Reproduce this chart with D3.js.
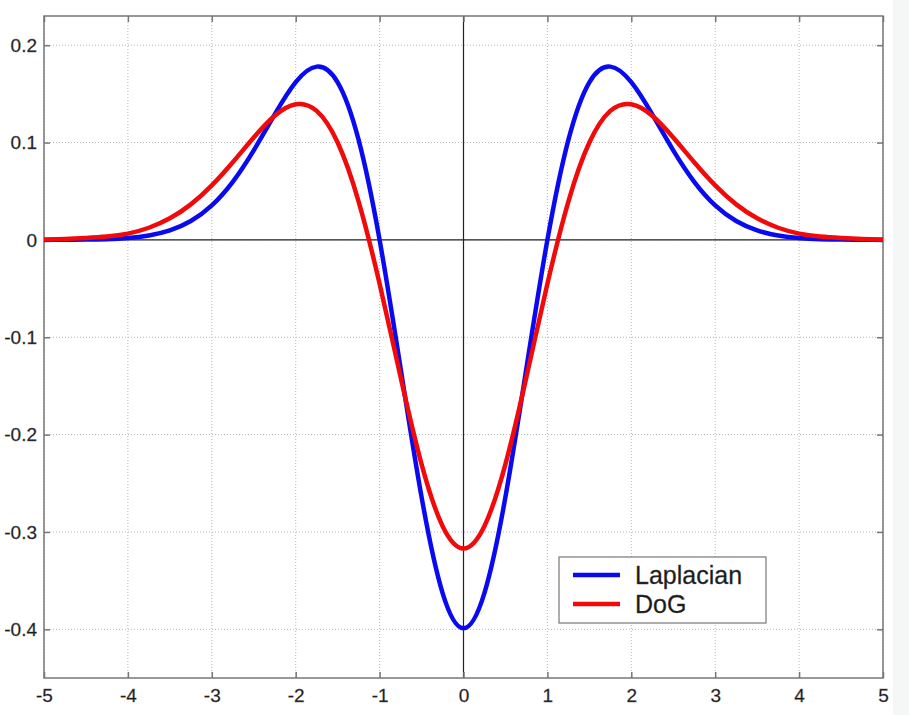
<!DOCTYPE html>
<html>
<head>
<meta charset="utf-8">
<script src="https://d3js.org/d3.v7.min.js"></script>
<style>
  body { margin: 0; background: #fff; }
  svg { display: block; font-family: "Liberation Sans", Arial, sans-serif; }
</style>
</head>
<body>
<div id="chart"></div>
<script>
var xValues = [-5, -4.75, -4.5, -4.25, -4, -3.75, -3.5, -3.25, -3, -2.75, -2.5, -2.25, -2, -1.75, -1.5, -1.25, -1, -0.75, -0.5, -0.25,
  0, 0.25, 0.5, 0.75, 1, 1.25, 1.5, 1.75, 2, 2.25, 2.5, 2.75, 3, 3.25, 3.5, 3.75, 4, 4.25, 4.5, 4.75, 5];
var laplacianValues = [0.0000, 0.0001, 0.0003, 0.0008, 0.0020, 0.0046, 0.0098, 0.0194, 0.0355, 0.0597, 0.0920, 0.1289, 0.1620, 0.1780, 0.1619, 0.1027, 0.0000, -0.1317, -0.2640, -0.3625,
  -0.3989, -0.3625, -0.2640, -0.1317, 0.0000, 0.1027, 0.1619, 0.1780, 0.1620, 0.1289, 0.0920, 0.0597, 0.0355, 0.0194, 0.0098, 0.0046, 0.0020, 0.0008, 0.0003, 0.0001, 0.0000];
var dogValues = [0.0004, 0.0010, 0.0020, 0.0035, 0.0065, 0.0125, 0.0222, 0.0365, 0.0560, 0.0798, 0.1052, 0.1275, 0.1393, 0.1325, 0.1000, 0.0394, -0.0451, -0.1408, -0.2303, -0.2939,
  -0.3170, -0.2939, -0.2303, -0.1408, -0.0451, 0.0394, 0.1000, 0.1325, 0.1393, 0.1275, 0.1052, 0.0798, 0.0560, 0.0365, 0.0222, 0.0125, 0.0065, 0.0035, 0.0020, 0.0010, 0.0004];
var seriesNames = ["Laplacian", "DoG"];
var xTicks = [-5, -4, -3, -2, -1, 0, 1, 2, 3, 4, 5];
var yTicks = [0.2, 0.1, 0, -0.1, -0.2, -0.3, -0.4];

var W = 909, H = 715;
var pLeft = 44, pTop = 16, pRight = 883, pBottom = 678;

var svg = d3.select("#chart").append("svg").attr("width", W).attr("height", H);
svg.append("rect").attr("width", W).attr("height", H).attr("fill", "#fff");
svg.append("rect").attr("x", 893).attr("width", W - 893).attr("height", H).attr("fill", "#f5f7f7");

var x = d3.scaleLinear().domain([-5, 5]).range([pLeft, pRight]);
var y = d3.scaleLinear().domain([-0.45, 0.23]).range([pBottom, pTop]);

// dotted grid
var grid = svg.append("g").attr("stroke", "#b8b8b8").attr("stroke-width", 1).attr("stroke-dasharray", "1,2");
xTicks.forEach(function(t){
  grid.append("line").attr("x1", x(t)).attr("x2", x(t)).attr("y1", pTop).attr("y2", pBottom);
});
yTicks.forEach(function(t){
  grid.append("line").attr("x1", pLeft).attr("x2", pRight).attr("y1", y(t)).attr("y2", y(t));
});

// zero lines
svg.append("line").attr("x1", pLeft).attr("x2", pRight).attr("y1", y(0)).attr("y2", y(0))
  .attr("stroke", "#222").attr("stroke-width", 1.2);
svg.append("line").attr("x1", x(0)).attr("x2", x(0)).attr("y1", pTop).attr("y2", pBottom)
  .attr("stroke", "#222").attr("stroke-width", 1.2);

// axes, ticks inward on all four sides
function styleAxis(g){
  g.select(".domain").remove();
  g.selectAll(".tick line").attr("stroke", "#777").attr("stroke-width", 1.5);
  g.selectAll("text").attr("fill", "#1a1a1a").attr("stroke", "#555").attr("stroke-width", 0.3)
    .style("font-size", "19px").style("font-family", "Liberation Sans, Arial, sans-serif");
}
var fmt = function(d){ return d === 0 ? "0" : String(d); };
svg.append("g").attr("transform", "translate(0," + pBottom + ")")
  .call(d3.axisBottom(x).tickValues(xTicks).tickSize(-6).tickPadding(11).tickFormat(fmt)).call(styleAxis);
svg.append("g").attr("transform", "translate(0," + pTop + ")")
  .call(d3.axisTop(x).tickValues(xTicks).tickSize(-6).tickFormat("")).call(styleAxis);
svg.append("g").attr("transform", "translate(" + pLeft + ",0)")
  .call(d3.axisLeft(y).tickValues(yTicks).tickSize(-6).tickPadding(7).tickFormat(fmt)).call(styleAxis);
svg.append("g").attr("transform", "translate(" + pRight + ",0)")
  .call(d3.axisRight(y).tickValues(yTicks).tickSize(-6).tickFormat("")).call(styleAxis);

svg.append("rect").attr("x", pLeft).attr("y", pTop).attr("width", pRight - pLeft).attr("height", pBottom - pTop)
  .attr("fill", "none").attr("stroke", "#777").attr("stroke-width", 1.5);

// curves
var line = d3.line().curve(d3.curveNatural)
  .x(function(d){ return x(d[0]); })
  .y(function(d){ return y(d[1]); });
var colors = ["#0a0af0", "#f00a0a"];
[laplacianValues, dogValues].forEach(function(vals, i){
  svg.append("path")
    .datum(xValues.map(function(v, j){ return [v, vals[j]]; }))
    .attr("d", line)
    .attr("fill", "none")
    .attr("stroke", colors[i])
    .attr("stroke-width", 4.5)
    .attr("stroke-linejoin", "round");
});

// legend
var lg = svg.append("g").attr("transform", "translate(559,557)");
lg.append("rect").attr("width", 207).attr("height", 66)
  .attr("fill", "#fff").attr("stroke", "#777").attr("stroke-width", 1.2);
seriesNames.forEach(function(name, i){
  var yy = 18 + i * 29;
  lg.append("line").attr("x1", 14).attr("x2", 61).attr("y1", yy).attr("y2", yy)
    .attr("stroke", colors[i]).attr("stroke-width", 4.5);
  lg.append("text").attr("x", 76).attr("y", yy + 9).text(name)
    .attr("fill", "#1a1a1a").attr("stroke", "#444").attr("stroke-width", 0.3)
    .style("font-size", "25px");
});
</script>
</body>
</html>
